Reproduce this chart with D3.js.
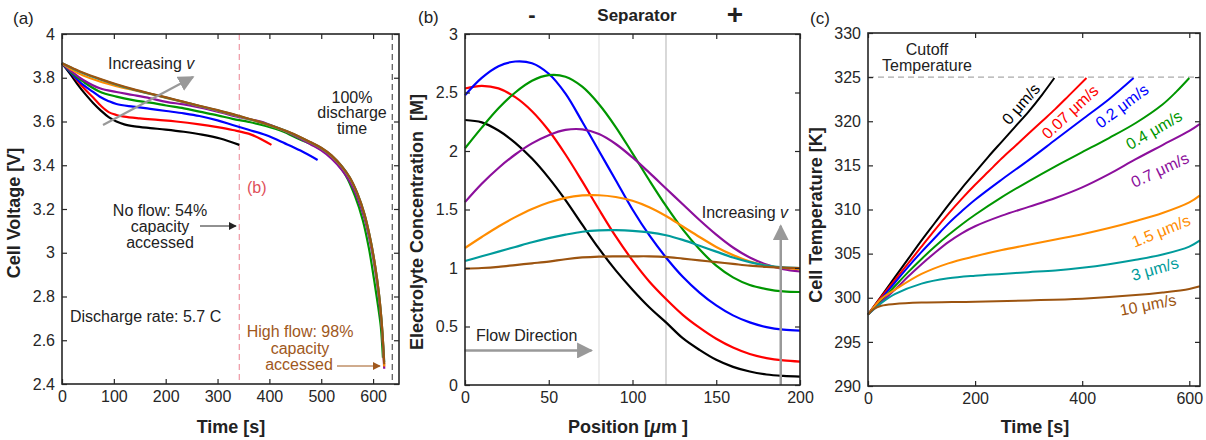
<!DOCTYPE html>
<html>
<head>
<meta charset="utf-8">
<script src="https://cdn.jsdelivr.net/npm/d3@7"></script>
<style>
  body { margin: 0; background: #fff; }
  svg text { font-family: "Liberation Sans", Arial, Helvetica, sans-serif; fill: #222; }
</style>
</head>
<body>
<svg id="fig" width="1206" height="440"></svg>
<script>
// ---- (a) cell voltage vs time, one pair of arrays per flow speed ----
const aT_0    = [0, 15, 30, 45, 60, 75, 90, 105, 120, 140, 170, 200, 235, 270, 305, 342];
const aV_0    = [3.866, 3.82, 3.77, 3.725, 3.685, 3.65, 3.62, 3.6, 3.587, 3.578, 3.570, 3.563, 3.553, 3.54, 3.522, 3.493];
const aT_007  = [0, 15, 30, 45, 60, 75, 90, 105, 120, 150, 185, 220, 265, 300, 329, 365, 404];
const aV_007  = [3.866, 3.83, 3.785, 3.745, 3.71, 3.672, 3.643, 3.63, 3.622, 3.614, 3.607, 3.60, 3.587, 3.574, 3.561, 3.54, 3.493];
const aT_02   = [0, 20, 41, 60, 73, 90, 105, 137, 170, 201, 235, 265, 300, 329, 360, 393, 430, 460, 493];
const aV_02   = [3.866, 3.815, 3.767, 3.735, 3.713, 3.693, 3.68, 3.668, 3.658, 3.648, 3.637, 3.625, 3.605, 3.584, 3.562, 3.538, 3.50, 3.467, 3.424];
const aT_04   = [0, 20, 41, 73, 105, 137, 170, 201, 235, 265, 300, 329, 360, 393, 425, 457, 490, 515, 530, 547, 565, 580, 592, 602, 610, 615, 619];
const aV_04   = [3.866, 3.82, 3.782, 3.736, 3.714, 3.698, 3.686, 3.673, 3.66, 3.645, 3.628, 3.612, 3.598, 3.58, 3.556, 3.52, 3.485, 3.447, 3.41, 3.355, 3.26, 3.15, 3.02, 2.876, 2.75, 2.66, 2.52];
const aT_hi   = [0, 20, 41, 73, 105, 137, 170, 201, 235, 265, 300, 342, 393, 440, 480, 500, 520, 540, 555, 570, 583, 595, 604, 611, 616, 619.5, 621.5];
const aV_07   = [3.866, 3.826, 3.79, 3.752, 3.735, 3.721, 3.706, 3.69, 3.678, 3.664, 3.645, 3.62, 3.592, 3.545, 3.495, 3.468, 3.43, 3.378, 3.326, 3.25, 3.16, 3.04, 2.92, 2.80, 2.68, 2.56, 2.47];
const aV_15   = [3.866, 3.835, 3.81, 3.783, 3.762, 3.744, 3.726, 3.708, 3.689, 3.67, 3.65, 3.623, 3.588, 3.548, 3.503, 3.477, 3.442, 3.392, 3.342, 3.267, 3.177, 3.057, 2.937, 2.817, 2.697, 2.575, 2.48];
const aV_3    = [3.866, 3.843, 3.821, 3.793, 3.768, 3.746, 3.727, 3.709, 3.689, 3.671, 3.651, 3.624, 3.589, 3.549, 3.504, 3.479, 3.444, 3.394, 3.344, 3.269, 3.179, 3.059, 2.939, 2.819, 2.699, 2.58, 2.50];
const aV_10   = [3.866, 3.845, 3.823, 3.795, 3.77, 3.748, 3.728, 3.71, 3.69, 3.672, 3.652, 3.625, 3.59, 3.55, 3.505, 3.48, 3.445, 3.395, 3.345, 3.27, 3.18, 3.06, 2.94, 2.82, 2.70, 2.58, 2.49];

// ---- (b) electrolyte concentration vs position ----
const bPos    = [0, 10, 20, 30, 40, 50, 60, 70, 80, 90, 100, 110, 120, 130, 140, 150, 160, 170, 180, 190, 200];
const bC_0    = [2.265, 2.245, 2.175, 2.07, 1.935, 1.77, 1.58, 1.37, 1.165, 0.98, 0.815, 0.665, 0.535, 0.40, 0.30, 0.215, 0.155, 0.115, 0.09, 0.078, 0.072];
const bC_007  = [2.534, 2.557, 2.535, 2.46, 2.34, 2.175, 1.97, 1.74, 1.50, 1.27, 1.065, 0.885, 0.735, 0.60, 0.49, 0.395, 0.32, 0.265, 0.23, 0.21, 0.20];
const bC_02   = [2.477, 2.625, 2.725, 2.765, 2.75, 2.66, 2.49, 2.25, 2.0, 1.75, 1.50, 1.28, 1.09, 0.925, 0.79, 0.68, 0.595, 0.535, 0.495, 0.473, 0.465];
const bC_04   = [2.023, 2.2, 2.365, 2.50, 2.60, 2.648, 2.635, 2.55, 2.40, 2.205, 1.98, 1.75, 1.53, 1.33, 1.16, 1.02, 0.92, 0.855, 0.82, 0.80, 0.795];
const bC_07   = [1.563, 1.72, 1.855, 1.97, 2.065, 2.135, 2.18, 2.185, 2.145, 2.06, 1.945, 1.815, 1.68, 1.545, 1.41, 1.285, 1.175, 1.09, 1.03, 0.99, 0.97];
const bC_15   = [1.171, 1.265, 1.355, 1.435, 1.505, 1.56, 1.60, 1.62, 1.622, 1.607, 1.575, 1.52, 1.445, 1.355, 1.265, 1.18, 1.11, 1.055, 1.02, 1.0, 0.99];
const bC_3    = [1.06, 1.10, 1.14, 1.18, 1.22, 1.255, 1.285, 1.31, 1.322, 1.323, 1.318, 1.305, 1.28, 1.24, 1.19, 1.14, 1.09, 1.05, 1.02, 1.005, 1.0];
const bC_10   = [0.995, 1.0, 1.01, 1.025, 1.04, 1.055, 1.075, 1.09, 1.098, 1.10, 1.10, 1.10, 1.095, 1.08, 1.065, 1.05, 1.035, 1.02, 1.01, 1.003, 1.0];

// ---- (c) cell temperature vs time ----
const cT_0    = [0, 25, 50, 75, 100, 125, 150, 175, 200, 225, 250, 275, 300, 325, 348];
const cK_0    = [298.1, 300.2, 302.3, 304.4, 306.5, 308.5, 310.5, 312.4, 314.2, 316.0, 317.7, 319.4, 321.1, 323.0, 324.9];
const cT_007  = [0, 25, 50, 75, 100, 125, 150, 175, 200, 225, 250, 275, 300, 325, 350, 375, 408];
const cK_007  = [298.1, 300.1, 302.0, 303.9, 305.8, 307.7, 309.5, 311.2, 312.8, 314.3, 315.8, 317.2, 318.6, 320.0, 321.4, 322.9, 324.9];
const cT_02   = [0, 25, 50, 75, 100, 125, 150, 175, 200, 250, 300, 350, 400, 450, 496];
const cK_02   = [298.1, 299.9, 301.7, 303.5, 305.2, 306.8, 308.4, 309.8, 311.1, 313.4, 315.6, 317.9, 320.2, 322.5, 324.9];
const cT_04   = [0, 25, 50, 75, 100, 125, 150, 175, 200, 250, 300, 350, 400, 450, 500, 550, 575, 600];
const cK_04   = [298.1, 299.7, 301.3, 302.9, 304.4, 305.8, 307.1, 308.3, 309.4, 311.4, 313.2, 314.9, 316.5, 318.1, 319.8, 321.9, 323.3, 324.9];
const cT_07   = [0, 25, 50, 75, 100, 125, 150, 175, 200, 250, 300, 350, 400, 450, 500, 550, 600, 620];
const cK_07   = [298.1, 299.5, 300.9, 302.4, 303.8, 305.1, 306.3, 307.3, 308.1, 309.3, 310.3, 311.3, 312.5, 314.0, 315.7, 317.3, 318.9, 319.7];
const cT_slow = [0, 25, 50, 100, 150, 200, 250, 300, 350, 400, 450, 500, 550, 600, 620];
const cK_15   = [298.1, 299.9, 300.9, 302.7, 303.9, 304.7, 305.4, 306.0, 306.6, 307.2, 307.9, 308.7, 309.6, 310.8, 311.6];
const cK_3    = [298.1, 299.4, 300.4, 301.6, 302.2, 302.5, 302.7, 302.9, 303.1, 303.4, 303.8, 304.3, 304.9, 305.8, 306.5];
const cT_10   = [0, 10, 25, 50, 100, 200, 300, 400, 500, 550, 600, 620];
const cK_10   = [298.1, 298.7, 299.1, 299.3, 299.45, 299.55, 299.7, 299.9, 300.3, 300.6, 301.0, 301.3];

const speedLabels = ["0", "0.07", "0.2", "0.4", "0.7", "1.5", "3", "10"];
const colors = ["#000000", "#ff0000", "#0000ff", "#009600", "#8c0f9c", "#ff8c00", "#009b9b", "#9c5410"];

const svg = d3.select("#fig");
const axisColor = "#262626";

// arrow heads
const defs = svg.append("defs");
function marker(id, color, size) {
    defs.append("marker")
        .attr("id", id)
        .attr("viewBox", "0 0 10 10")
        .attr("refX", 9).attr("refY", 5)
        .attr("markerUnits", "userSpaceOnUse")
        .attr("markerWidth", size).attr("markerHeight", size)
        .attr("orient", "auto")
        .append("path")
        .attr("d", "M0,0 L10,5 L0,10 z")
        .attr("fill", color);
}
marker("arrGray", "#999999", 16);
marker("arrBlack", "#222222", 8);
marker("arrBrown", "#a0581c", 8);

function panel(left, top, right, bottom, xDom, yDom) {
    const g = svg.append("g").attr("transform", `translate(${left},${top})`);
    const w = right - left, h = bottom - top;
    const x = d3.scaleLinear().domain(xDom).range([0, w]);
    const y = d3.scaleLinear().domain(yDom).range([h, 0]);
    return { g, x, y, w, h };
}

function frame(p, xTicks, yTicks) {
    const { g, x, y, w, h } = p;
    const fmt = d3.format("~g");
    const parts = [
        g.append("g").attr("transform", `translate(0,${h})`)
            .call(d3.axisBottom(x).tickValues(xTicks).tickSizeInner(-5).tickSizeOuter(0).tickPadding(7).tickFormat(fmt)),
        g.append("g")
            .call(d3.axisTop(x).tickValues(xTicks).tickSizeInner(-5).tickSizeOuter(0).tickFormat("")),
        g.append("g")
            .call(d3.axisLeft(y).tickValues(yTicks).tickSizeInner(-5).tickSizeOuter(0).tickPadding(7).tickFormat(fmt)),
        g.append("g").attr("transform", `translate(${w},0)`)
            .call(d3.axisRight(y).tickValues(yTicks).tickSizeInner(-5).tickSizeOuter(0).tickFormat(""))
    ];
    parts.forEach(a => {
        a.select(".domain").remove();
        a.selectAll("line").attr("stroke", axisColor).attr("stroke-width", 1.2);
        a.selectAll("text").style("font-size", "16px").style("fill", axisColor);
    });
    g.append("rect")
        .attr("width", w).attr("height", h)
        .attr("fill", "none").attr("stroke", axisColor).attr("stroke-width", 1.6);
}

function curve(p, xs, ys, color, width) {
    const line = d3.line()
        .x(d => p.x(d[0]))
        .y(d => p.y(d[1]))
        .curve(d3.curveCatmullRom.alpha(0.5));
    p.g.append("path")
        .datum(d3.zip(xs, ys))
        .attr("d", line)
        .attr("fill", "none")
        .attr("stroke", color)
        .attr("stroke-width", width)
        .attr("stroke-linejoin", "round");
}

function txt(x, y, s, opts = {}) {
    const t = svg.append("text")
        .attr("x", x).attr("y", y)
        .attr("text-anchor", opts.anchor || "start")
        .style("font-size", (opts.size || 16) + "px");
    if (opts.bold) t.style("font-weight", "bold");
    if (opts.color) t.style("fill", opts.color);
    if (opts.rotate !== undefined) t.attr("transform", `rotate(${opts.rotate},${x},${y})`);
    return t.text(s);
}

// ===================== (a) =====================
const pa = panel(62, 34, 399, 384, [0, 650], [2.4, 4]);

// pink dashed marker of panel (b) time and black 100% discharge line
pa.g.append("line")
    .attr("x1", pa.x(342)).attr("x2", pa.x(342)).attr("y1", 0).attr("y2", pa.h)
    .attr("stroke", "#f0a0ac").attr("stroke-width", 1.3).attr("stroke-dasharray", "6,4");
pa.g.append("line")
    .attr("x1", pa.x(637)).attr("x2", pa.x(637)).attr("y1", 0).attr("y2", pa.h)
    .attr("stroke", "#444").attr("stroke-width", 1.1).attr("stroke-dasharray", "6,4");

const aSeries = [
    [aT_0, aV_0], [aT_007, aV_007], [aT_02, aV_02], [aT_04, aV_04],
    [aT_hi, aV_07], [aT_hi, aV_15], [aT_hi, aV_3], [aT_hi, aV_10]
];
aSeries.forEach((s, i) => curve(pa, s[0], s[1], colors[i], 2.2));
frame(pa, d3.range(0, 601, 100), d3.range(2.4, 4.01, 0.2).map(v => +v.toFixed(1)));

// annotations (a)
txt(13, 24, "(a)", { size: 17 });
txt(20, 213, "Cell Voltage [V]", { size: 18, bold: true, anchor: "middle", rotate: -90 });
txt(231, 433, "Time [s]", { size: 18, bold: true, anchor: "middle" });

const inc = txt(108, 69, "Increasing ", { size: 16 });
inc.append("tspan").style("font-style", "italic").text("v");
svg.append("line")
    .attr("x1", 103).attr("y1", 125).attr("x2", 193).attr("y2", 77)
    .attr("stroke", "#999").attr("stroke-width", 2.2)
    .attr("marker-end", "url(#arrGray)");

txt(352, 103, "100%", { anchor: "middle" });
txt(352, 118, "discharge", { anchor: "middle" });
txt(352, 134, "time", { anchor: "middle" });

txt(247, 193, "(b)", { color: "#e0505a" });

txt(160, 216, "No flow: 54%", { anchor: "middle" });
txt(160, 232, "capacity", { anchor: "middle" });
txt(160, 248, "accessed", { anchor: "middle" });
svg.append("line")
    .attr("x1", 200).attr("y1", 226).attr("x2", 236).attr("y2", 226)
    .attr("stroke", "#222").attr("stroke-width", 1)
    .attr("marker-end", "url(#arrBlack)");

txt(70, 322, "Discharge rate: 5.7 C");

const brownTxt = "#a0581c";
txt(300, 337, "High flow: 98%", { anchor: "middle", color: brownTxt });
txt(300, 354, "capacity", { anchor: "middle", color: brownTxt });
txt(299, 370, "accessed", { anchor: "middle", color: brownTxt });
svg.append("line")
    .attr("x1", 337).attr("y1", 366).attr("x2", 380).attr("y2", 366)
    .attr("stroke", brownTxt).attr("stroke-width", 1)
    .attr("marker-end", "url(#arrBrown)");

// ===================== (b) =====================
const pb = panel(465, 34, 800, 385, [0, 200], [0, 3]);

pb.g.append("line")
    .attr("x1", pb.x(80)).attr("x2", pb.x(80)).attr("y1", 0).attr("y2", pb.h)
    .attr("stroke", "#e4e4e4").attr("stroke-width", 1.3);
pb.g.append("line")
    .attr("x1", pb.x(120)).attr("x2", pb.x(120)).attr("y1", 0).attr("y2", pb.h)
    .attr("stroke", "#c4c4c4").attr("stroke-width", 1.3);

[bC_0, bC_007, bC_02, bC_04, bC_07, bC_15, bC_3, bC_10]
    .forEach((c, i) => curve(pb, bPos, c, colors[i], 2.2));

// increasing v arrow
pb.g.append("line")
    .attr("x1", pb.x(188.5)).attr("x2", pb.x(188.5))
    .attr("y1", pb.h).attr("y2", pb.y(1.36))
    .attr("stroke", "#999").attr("stroke-width", 2.5)
    .attr("marker-end", "url(#arrGray)");
// flow direction arrow
pb.g.append("line")
    .attr("x1", pb.x(-5) + 8).attr("x2", pb.x(75.5))
    .attr("y1", pb.y(0.295)).attr("y2", pb.y(0.295))
    .attr("stroke", "#999").attr("stroke-width", 2.5)
    .attr("marker-end", "url(#arrGray)");

frame(pb, d3.range(0, 201, 50), d3.range(0, 3.01, 0.5));

txt(418, 23, "(b)", { size: 17 });
txt(532, 22, "-", { size: 22, bold: true, anchor: "middle" });
txt(637, 21, "Separator", { size: 17, bold: true, anchor: "middle" });
txt(735, 24, "+", { size: 28, bold: true, anchor: "middle" });
txt(423, 222, "Electrolyte Concentration  [M]", { size: 18, bold: true, anchor: "middle", rotate: -90 })
    .attr("xml:space", "preserve").style("white-space", "pre");
const posLab = txt(628, 433, "Position [", { size: 18, bold: true, anchor: "middle" });
posLab.append("tspan").style("font-style", "italic").text("μ");
posLab.append("tspan").text("m ]");
txt(476, 341, "Flow Direction");
const inc2 = txt(788, 218, "Increasing ", { anchor: "end" });
inc2.append("tspan").style("font-style", "italic").text("v");

// ===================== (c) =====================
const pc = panel(868, 33, 1200, 386, [0, 620], [290, 330]);

pc.g.append("line")
    .attr("x1", 0).attr("x2", pc.w).attr("y1", pc.y(325)).attr("y2", pc.y(325))
    .attr("stroke", "#aaa").attr("stroke-width", 1.2).attr("stroke-dasharray", "6,4");

const cSeries = [
    [cT_0, cK_0], [cT_007, cK_007], [cT_02, cK_02], [cT_04, cK_04],
    [cT_07, cK_07], [cT_slow, cK_15], [cT_slow, cK_3], [cT_10, cK_10]
];
cSeries.forEach((s, i) => curve(pc, s[0], s[1], colors[i], 2));
frame(pc, [0, 200, 400, 600], d3.range(290, 331, 5));

txt(810, 24, "(c)", { size: 17 });
txt(822, 215, "Cell Temperature [K]", { size: 18, bold: true, anchor: "middle", rotate: -90 });
txt(1035, 433, "Time [s]", { size: 18, bold: true, anchor: "middle" });
txt(927, 55, "Cutoff", { anchor: "middle" });
txt(927, 71, "Temperature", { anchor: "middle" });

// rotated speed labels along the curves
const cLabelPos = [
    [1021, 104, -49], [1070, 112, -43], [1122, 106, -37], [1154, 130, -30],
    [1160, 170, -25], [1161, 231, -22], [1155, 269, -16], [1148, 305, -11]
];
cLabelPos.forEach((p, i) => {
    svg.append("text")
        .attr("x", p[0]).attr("y", p[1])
        .attr("text-anchor", "middle")
        .attr("dominant-baseline", "central")
        .attr("transform", `rotate(${p[2]},${p[0]},${p[1]})`)
        .style("font-size", "16px")
        .style("fill", colors[i])
        .text(speedLabels[i] + " μm/s");
});
</script>
</body>
</html>
